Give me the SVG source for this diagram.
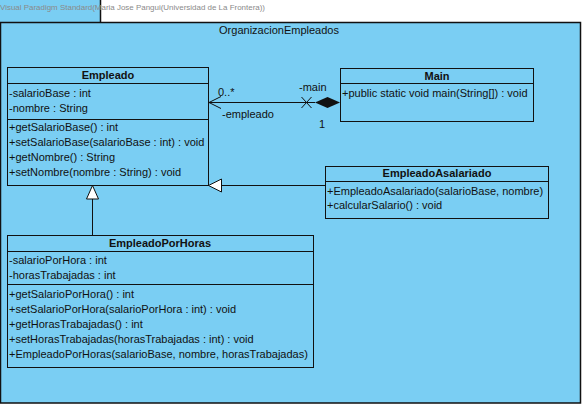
<svg xmlns="http://www.w3.org/2000/svg" width="585" height="408" viewBox="0 0 585 408">
<style>
.t{font-family:"Liberation Sans",Arial,sans-serif;font-size:11px;fill:#111}
.b{font-weight:bold}
.box{fill:#7ACEF3;stroke:#111;stroke-width:1}
.sep{stroke:#111;stroke-width:1}
.ln{stroke:#111;stroke-width:1;fill:none}
</style>
<rect width="585" height="408" fill="#fff"/>
<g id="package">
<rect x="0" y="0" width="100" height="22" fill="#7ACEF3"/>
<rect x="0" y="22" width="580" height="381" fill="#7ACEF3"/>
<path d="M100.5 0V22.5M0 22.5H580.5V403H0.5V22.5" fill="none" stroke="#111" stroke-width="1.5"/>
<text x="279" y="34" text-anchor="middle" class="t">OrganizacionEmpleados</text>
</g>
<text x="0" y="10" font-family="Liberation Sans,Arial,sans-serif" font-size="8" fill="#8a8a8a" textLength="265" lengthAdjust="spacingAndGlyphs">Visual Paradigm Standard(Maria Jose Pangui(Universidad de La Frontera))</text>
<g id="connectors">
<line class="ln" x1="209" y1="102.5" x2="315" y2="102.5"/>
<polyline class="ln" points="221,96.5 209,102.5 221,108.5"/>
<path class="ln" d="M301.5 97L311.5 108M301.5 108L311.5 97"/>
<polygon points="340,102.5 327.5,97 315,102.5 327.5,108" fill="#111"/>
<text x="218" y="96" class="t">0..*</text>
<text x="222" y="118" class="t">-empleado</text>
<text x="299" y="91" class="t">-main</text>
<text x="319" y="128" class="t">1</text>
<line class="ln" x1="92.5" y1="235" x2="92.5" y2="199"/>
<polygon points="92.5,185.5 86.5,199 98.5,199" fill="#fff" stroke="#111"/>
<line class="ln" x1="325" y1="185.5" x2="221.5" y2="185.5"/>
<polygon points="208.5,185.5 221.5,179 221.5,192" fill="#fff" stroke="#111"/>
</g>
<g id="Empleado">
<rect class="box" x="7.5" y="67.5" width="201" height="118"/>
<line class="sep" x1="7.5" y1="83.5" x2="208.5" y2="83.5"/>
<line class="sep" x1="7.5" y1="119.5" x2="208.5" y2="119.5"/>
<text x="108" y="79" text-anchor="middle" class="t b">Empleado</text>
<text x="9" y="97" class="t">-salarioBase : int</text>
<text x="9" y="112" class="t">-nombre : String</text>
<text x="9" y="131" class="t">+getSalarioBase() : int</text>
<text x="9" y="146" class="t">+setSalarioBase(salarioBase : int) : void</text>
<text x="9" y="161" class="t">+getNombre() : String</text>
<text x="9" y="176" class="t">+setNombre(nombre : String) : void</text>
</g>
<g id="Main">
<rect class="box" x="340.5" y="68.5" width="193" height="53"/>
<line class="sep" x1="340.5" y1="83.5" x2="533.5" y2="83.5"/>
<text x="437" y="80" text-anchor="middle" class="t b">Main</text>
<text x="342" y="97" class="t">+public static void main(String[]) : void</text>
</g>
<g id="EmpleadoAsalariado">
<rect class="box" x="325.5" y="166.5" width="223" height="52"/>
<line class="sep" x1="325.5" y1="181.5" x2="548.5" y2="181.5"/>
<text x="437" y="177" text-anchor="middle" class="t b">EmpleadoAsalariado</text>
<text x="327" y="195" class="t">+EmpleadoAsalariado(salarioBase, nombre)</text>
<text x="327" y="209" class="t">+calcularSalario() : void</text>
</g>
<g id="EmpleadoPorHoras">
<rect class="box" x="7.5" y="235.5" width="306" height="132"/>
<line class="sep" x1="7.5" y1="251.5" x2="313.5" y2="251.5"/>
<line class="sep" x1="7.5" y1="284.5" x2="313.5" y2="284.5"/>
<text x="160" y="247" text-anchor="middle" class="t b">EmpleadoPorHoras</text>
<text x="9" y="264" class="t">-salarioPorHora : int</text>
<text x="9" y="279" class="t">-horasTrabajadas : int</text>
<text x="9" y="298" class="t">+getSalarioPorHora() : int</text>
<text x="9" y="313" class="t">+setSalarioPorHora(salarioPorHora : int) : void</text>
<text x="9" y="328" class="t">+getHorasTrabajadas() : int</text>
<text x="9" y="343" class="t">+setHorasTrabajadas(horasTrabajadas : int) : void</text>
<text x="9" y="358" class="t">+EmpleadoPorHoras(salarioBase, nombre, horasTrabajadas)</text>
</g>
</svg>
